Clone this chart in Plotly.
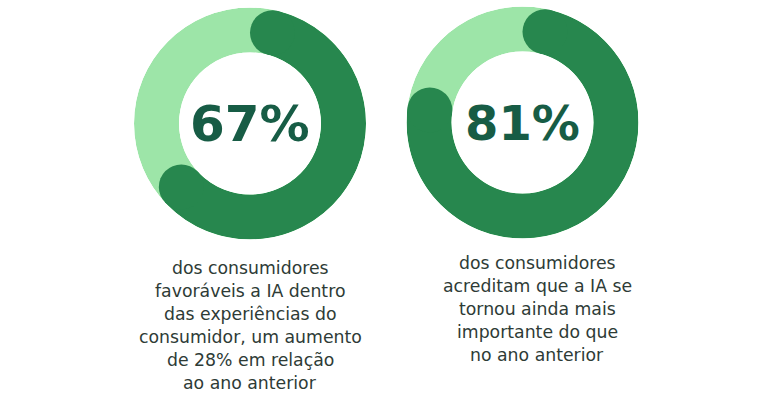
import math
import plotly.graph_objects as go

# Data
labels = ["67%", "81%"]
values = [67, 81]
captions = [
    ["dos consumidores", "favoráveis a IA dentro", "das experiências do",
     "consumidor, um aumento", "de 28% em relação", "ao ano anterior"],
    ["dos consumidores", "acreditam que a IA se", "tornou ainda mais",
     "importante do que", "no ano anterior"],
]

W, H = 768, 400
DARK = "#27874e"
LIGHT = "#9de5a8"
NUM_COLOR = "#175c45"
TEXT_COLOR = "#2e3b36"

# donut geometry (pixels)
centers = [(250, 123.5), (522.5, 122.5)]
R_OUT = 116
R_IN = 71
hole = R_IN / R_OUT
ring_w = R_OUT - R_IN
r_mid = (R_OUT + R_IN) / 2
cap_deg = math.degrees(math.asin((ring_w / 2) / r_mid))

caption_x = [250, 537]
caption_y0 = [268, 263]
line_gap = 23
num_sizes = [50, 48]

fig = go.Figure()
layout_polars = {}
annotations = []
for i, (val, lab) in enumerate(zip(values, labels)):
    pname = "polar" if i == 0 else f"polar{i+1}"
    cx, cy = centers[i]
    dom_x = [(cx - R_OUT) / W, (cx + R_OUT) / W]
    dom_y = [(H - cy - R_OUT) / H, (H - cy + R_OUT) / H]
    layout_polars[pname] = dict(
        domain=dict(x=dom_x, y=dom_y),
        hole=hole,
        bgcolor="rgba(0,0,0,0)",
        radialaxis=dict(range=[0, 1], visible=False, showgrid=False),
        angularaxis=dict(rotation=90, direction="clockwise", visible=False,
                         showgrid=False, showline=False, showticklabels=False),
    )
    total = val / 100 * 360
    a0 = cap_deg
    a1 = total - cap_deg
    # background ring
    fig.add_trace(go.Barpolar(r=[1], theta=[180], width=[360], base=[0],
                              marker=dict(color=LIGHT, line=dict(width=0)),
                              subplot=pname, hoverinfo="skip", showlegend=False))
    # progress arc
    fig.add_trace(go.Barpolar(r=[1], theta=[(a0 + a1) / 2], width=[a1 - a0], base=[0],
                              marker=dict(color=DARK, line=dict(width=0)),
                              subplot=pname, hoverinfo="skip", showlegend=False))
    # round caps
    fig.add_trace(go.Scatterpolar(r=[0.5, 0.5], theta=[a0, a1], mode="markers",
                                  marker=dict(size=ring_w, color=DARK, line=dict(width=0)),
                                  subplot=pname, hoverinfo="skip", showlegend=False))
    annotations.append(dict(
        x=cx / W, y=1 - cy / H, xref="paper", yref="paper",
        text=lab, showarrow=False, xanchor="center", yanchor="middle",
        font=dict(family="DejaVu Sans", size=num_sizes[i], color=NUM_COLOR, weight=800),
    ))
    for j, line in enumerate(captions[i]):
        y = caption_y0[i] + j * line_gap
        annotations.append(dict(
            x=caption_x[i] / W, y=1 - y / H, xref="paper", yref="paper",
            text=line, showarrow=False, xanchor="center", yanchor="middle",
            font=dict(family="DejaVu Sans", size=17.3, color=TEXT_COLOR),
        ))

fig.update_layout(
    width=W, height=H,
    margin=dict(l=0, r=0, t=0, b=0),
    paper_bgcolor="white", plot_bgcolor="white",
    annotations=annotations,
    **layout_polars,
)

fig.write_html("out.html", config={"displayModeBar": False},
               post_script="document.body.style.margin='0';")
